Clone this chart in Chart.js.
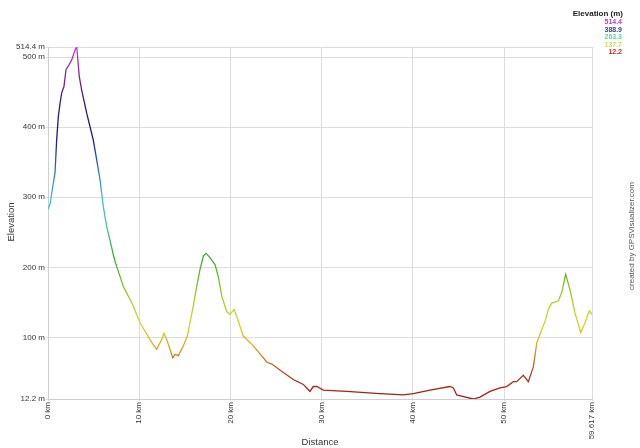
<!DOCTYPE html>
<html>
<head>
<meta charset="utf-8">
<script src="https://cdn.jsdelivr.net/npm/chart.js@4.4.0/dist/chart.umd.min.js"></script>
<style>
    html, body { margin: 0; padding: 0; background: #ffffff; }
</style>
</head>
<body>
<canvas id="elevationChart" width="640" height="448"></canvas>
<script>
// profile (km, m)
const distKm = [0, 0.22, 0.52, 0.77, 0.95, 1.13, 1.32, 1.50, 1.75, 1.97, 2.22, 2.60, 2.96, 3.15,
    3.43, 3.69, 4.24, 4.60, 4.96, 5.34, 5.70, 6.06, 6.43, 6.79, 7.23, 7.53, 8.25, 9.35, 10.08,
    11.36, 11.91, 12.46, 12.71, 13.01, 13.37, 13.67, 13.92, 14.28, 14.83, 15.27, 15.56, 15.92,
    16.30, 16.66, 17.02, 17.32, 17.75, 18.30, 18.66, 19.04, 19.58, 19.95, 20.38, 20.68, 21.40,
    22.50, 23.97, 24.52, 25.79, 26.88, 27.98, 28.35, 28.71, 29.07, 29.45, 30.17, 32.73, 36.38,
    38.94, 40.03, 41.86, 44.05, 44.42, 44.79, 45.88, 46.61, 47.34, 48.44, 49.53, 50.27, 50.99,
    51.36, 52.09, 52.64, 53.19, 53.56, 54.10, 54.47, 54.83, 55.20, 55.92, 56.30, 56.73, 57.21,
    57.75, 58.38, 58.85, 59.32, 59.617]
const elevM = [283, 290, 315, 335, 382, 415, 434, 449, 458, 482, 487, 496, 510, 514.4,
    472, 453, 420, 401, 382, 353, 325, 287, 258, 239, 214, 201, 173, 145, 121,
    93, 83, 97, 106, 97, 83, 71, 76, 74, 88, 102, 121, 145,
    173, 197, 216, 220, 214, 204, 187, 159, 137, 133, 140, 130, 102,
    88, 65, 62, 50, 40, 33, 28, 23, 30, 30, 25, 23, 20,
    18, 20, 25, 30, 28, 18, 14.5, 12.2, 15, 23, 28, 30, 37,
    37, 46, 37, 58, 92, 111, 123, 140, 149, 152, 164, 190, 168,
    135, 107, 121, 138, 133]

const yTicks = [12.2, 100, 200, 300, 400, 500, 514.4]
const xTicks = [0, 10, 20, 30, 40, 50, 59.617]
const legendValues = [514.4, 388.9, 263.3, 137.7, 12.2]

const legendColors = ['#c43cc4', '#33449c', '#55d898', '#d8d850', '#c82a2a']
// elevation -> colour stops for the line
const colorStops = [
    [12.2, '#9c1a14'], [40, '#a83418'], [65, '#c0701c'], [90, '#d4b020'], [120, '#d8d424'],
    [150, '#b4cc26'], [185, '#6cbc2c'], [215, '#3ca838'], [260, '#3cc890'], [300, '#3cc0d0'],
    [340, '#2a70b0'], [385, '#1a1a78'], [440, '#3a1a80'], [480, '#8a2a9c'], [514.4, '#c43cc4']
]

const yMin = yTicks[0]
const yMax = yTicks[yTicks.length - 1]
const xMin = xTicks[0]
const xMax = xTicks[xTicks.length - 1]
const font = '"Liberation Sans", Arial, sans-serif'

var points = []
for (i = 0; i < distKm.length; i++) {
    points[i] = { x: distKm[i], y: elevM[i] }
}

function lineGradient(context) {
    var chart = context.chart
    if (!chart.chartArea) return '#888'
    var y = chart.scales.y
    var g = chart.ctx.createLinearGradient(0, y.getPixelForValue(yMin), 0, y.getPixelForValue(yMax))
    colorStops.forEach(function(s) {
        g.addColorStop((s[0] - yMin) / (yMax - yMin), s[1])
    })
    return g
}

// extra text: axis titles, elevation legend, credit
const textPlugin = {
    id: 'textPlugin',
    afterDraw(chart) {
        var c = chart.ctx
        c.save()
        c.fillStyle = '#333'
        c.textBaseline = 'middle'
        c.textAlign = 'center'
        c.font = '9.5px ' + font
        c.fillText('Distance', 320, 442)
        c.save()
        c.translate(11, 222)
        c.rotate(-Math.PI / 2)
        c.fillText('Elevation', 0, 0)
        c.restore()

        c.save()
        c.fillStyle = '#555'
        c.font = '8px ' + font
        c.translate(632, 236)
        c.rotate(-Math.PI / 2)
        c.fillText('created by GPSVisualizer.com', 0, 0)
        c.restore()

        c.textAlign = 'right'
        c.font = 'bold 8px ' + font
        c.fillStyle = '#222'
        c.fillText('Elevation (m)', 623, 14)
        c.font = 'bold 7px ' + font
        for (var k = 0; k < legendValues.length; k++) {
            c.fillStyle = legendColors[k]
            c.fillText(legendValues[k].toFixed(1), 622, 22.5 + 7.5 * k)
        }
        c.restore()
    }
}

var ctx = document.getElementById('elevationChart')
new Chart(ctx, {
    type: 'line',
    data: {
        datasets: [
            {
                label: 'Elevation',
                data: points,
                borderColor: lineGradient,
                borderWidth: 1.3,
                pointRadius: 0,
                tension: 0,
                fill: false
            }
        ]
    },
    options: {
        responsive: false,
        animation: false,
        layout: {
            padding: { top: 47, right: 48, left: 0, bottom: 0 }
        },
        scales: {
            x: {
                type: 'linear',
                min: xMin,
                max: xMax,
                afterFit: function(s) { s.height = 49 },
                afterBuildTicks: function(s) {
                    s.ticks = xTicks.map(function(v) { return { value: v } })
                },
                ticks: {
                    autoSkip: false,
                    minRotation: 90,
                    maxRotation: 90,
                    padding: 1,
                    color: '#333',
                    font: { family: font, size: 8 },
                    callback: function(v) { return v + ' km' }
                },
                grid: { color: '#dcdcdc', tickLength: 2 },
                border: { color: '#cfcfcf' }
            },
            y: {
                type: 'linear',
                min: yMin,
                max: yMax,
                afterFit: function(s) { s.width = 48 },
                afterBuildTicks: function(s) {
                    s.ticks = yTicks.map(function(v) { return { value: v } })
                },
                ticks: {
                    padding: 1,
                    color: '#333',
                    font: { family: font, size: 8 },
                    callback: function(v) { return v + ' m' }
                },
                grid: { color: '#dcdcdc', tickLength: 2 },
                border: { color: '#cfcfcf' }
            }
        },
        plugins: {
            legend: { display: false },
            tooltip: { enabled: false }
        }
    },
    plugins: [textPlugin]
})
</script>
</body>
</html>
